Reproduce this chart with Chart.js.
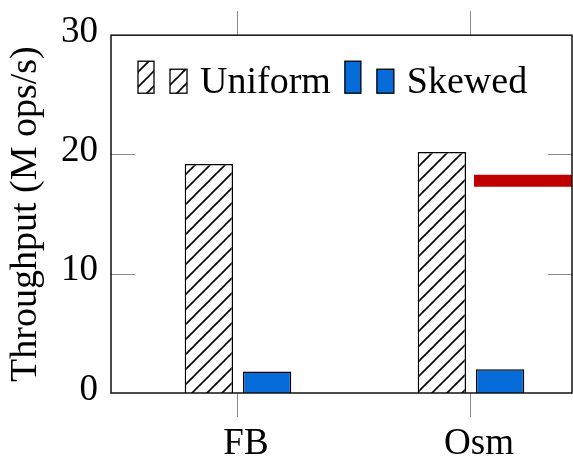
<!DOCTYPE html>
<html>
<head>
<meta charset="utf-8">
<script src="https://cdn.jsdelivr.net/npm/chart.js@4"></script>
<style>
  body { margin: 0; background: #fff; }
  #wrap { width: 573px; height: 460px; }
</style>
</head>
<body>
<div id="wrap"><canvas id="chart" width="573" height="460"></canvas></div>
<script>
const categories = ["FB", "Osm"];
const uniform = [19.2, 20.2];
const skewed = [1.8, 2.0];
const yTicks = [0, 10, 20, 30];
// red reference line (starts just right of Osm)
const refLine = [{ x: 1.013, y: 17.8 }, { x: 2, y: 17.8 }];

const serif = "'Liberation Serif', 'DejaVu Serif', serif";
const blue = "#046bd8";
const red = "#c00000";
const tickGray = "#888";

const canvas = document.getElementById("chart");
const ctx = canvas.getContext("2d");

function makeHatch() {
  const s = 15;
  const tile = document.createElement("canvas");
  tile.width = s;
  tile.height = s;
  const t = tile.getContext("2d");
  t.fillStyle = "#fff";
  t.fillRect(0, 0, s, s);
  t.strokeStyle = "#000";
  t.lineWidth = 1.6;
  t.beginPath();
  t.moveTo(0, s); t.lineTo(s, 0);
  t.moveTo(-2, 2); t.lineTo(2, -2);
  t.moveTo(s - 2, s + 2); t.lineTo(s + 2, s - 2);
  t.stroke();
  return ctx.createPattern(tile, "repeat");
}
const hatch = makeHatch();

const catTicks = (scale) => {
  scale.ticks = categories.map((c, i) => ({ value: i }));
};

const frame = {
  id: "frame",
  afterDraw(chart) {
    const { ctx, chartArea: a, scales } = chart;
    const y = scales.y;
    ctx.save();
    // inward ticks on both sides
    ctx.strokeStyle = tickGray;
    ctx.lineWidth = 1;
    ctx.beginPath();
    yTicks.slice(1, -1).forEach((v) => {
      const py = Math.round(y.getPixelForValue(v)) + 0.5;
      ctx.moveTo(a.left, py); ctx.lineTo(a.left + 24, py);
      ctx.moveTo(a.right, py); ctx.lineTo(a.right - 24, py);
    });
    ctx.stroke();
    // box
    ctx.strokeStyle = "#111";
    ctx.lineWidth = 1.5;
    ctx.strokeRect(a.left, a.top, a.right - a.left, a.bottom - a.top);

    // legend inside the plot, top left
    const entries = [
      { label: chart.data.datasets[0].label, fill: hatch },
      { label: chart.data.datasets[1].label, fill: blue },
    ];
    const base = a.top + 58;
    let x = a.left + 27;
    ctx.font = "38px " + serif;
    ctx.textBaseline = "alphabetic";
    entries.forEach((e) => {
      const boxes = [[16, 32], [17, 24]];
      boxes.forEach(([w, h], i) => {
        ctx.fillStyle = e.fill;
        ctx.fillRect(x, base - h, w, h);
        ctx.strokeStyle = "#000";
        ctx.lineWidth = 1.3;
        ctx.strokeRect(x, base - h, w, h);
        x += w + (i === 0 ? 16 : 13);
      });
      ctx.fillStyle = "#000";
      ctx.fillText(e.label, x, base);
      x += ctx.measureText(e.label).width + 14;
    });
    ctx.restore();
  },
};

const xCommon = {
  type: "linear",
  min: -0.545,
  max: 1.4335,
  offset: false,
  afterBuildTicks: catTicks,
  border: { display: false },
};

new Chart(ctx, {
  data: {
    datasets: [
      {
        type: "bar",
        label: "Uniform",
        data: uniform.map((v, i) => ({ x: i, y: v })),
        backgroundColor: hatch,
        borderColor: "#000",
        borderWidth: 1.5,
        xAxisID: "x",
        yAxisID: "y",
      },
      {
        type: "bar",
        label: "Skewed",
        data: skewed.map((v, i) => ({ x: i, y: v })),
        backgroundColor: blue,
        borderColor: "#000",
        borderWidth: 1.5,
        xAxisID: "x",
        yAxisID: "y",
      },
      {
        type: "line",
        label: "",
        data: refLine,
        borderColor: red,
        borderWidth: 12,
        borderCapStyle: "butt",
        pointRadius: 0,
        xAxisID: "x",
        yAxisID: "y",
      },
    ],
  },
  options: {
    responsive: false,
    animation: false,
    layout: { padding: { top: 0, right: 1, left: 0, bottom: 0 } },
    datasets: {
      bar: { categoryPercentage: 0.5, barPercentage: 0.83 },
    },
    plugins: { legend: { display: false }, tooltip: { enabled: false } },
    scales: {
      x: {
        ...xCommon,
        position: "bottom",
        afterFit: (s) => { s.height = 67; },
        ticks: {
          callback: (v) => categories[v] || "",
          color: "#000",
          padding: 5,
          labelOffset: 8,
          font: { family: serif, size: 37, lineHeight: 1.2 },
        },
        grid: { offset: false, drawOnChartArea: false, tickLength: 24, color: tickGray, lineWidth: 1 },
      },
      x2: {
        ...xCommon,
        position: "top",
        afterFit: (s) => { s.height = 30; },
        ticks: { display: false },
        grid: { offset: false, drawOnChartArea: false, tickLength: 24, color: tickGray, lineWidth: 1 },
      },
      y: {
        min: 0,
        max: 30,
        afterBuildTicks: (s) => { s.ticks = yTicks.map((v) => ({ value: v })); },
        afterFit: (s) => { s.width = 111; },
        ticks: {
          color: "#000",
          padding: 13,
          labelOffset: -3,
          font: { family: serif, size: 37, lineHeight: 1.2 },
        },
        grid: { display: false, drawTicks: false },
        border: { display: false },
        title: {
          display: true,
          text: "Throughput (M ops/s)",
          color: "#000",
          padding: { top: 3, bottom: 0 },
          font: { family: serif, size: 38, lineHeight: 1.2 },
        },
      },
    },
  },
  plugins: [frame],
});
</script>
</body>
</html>
